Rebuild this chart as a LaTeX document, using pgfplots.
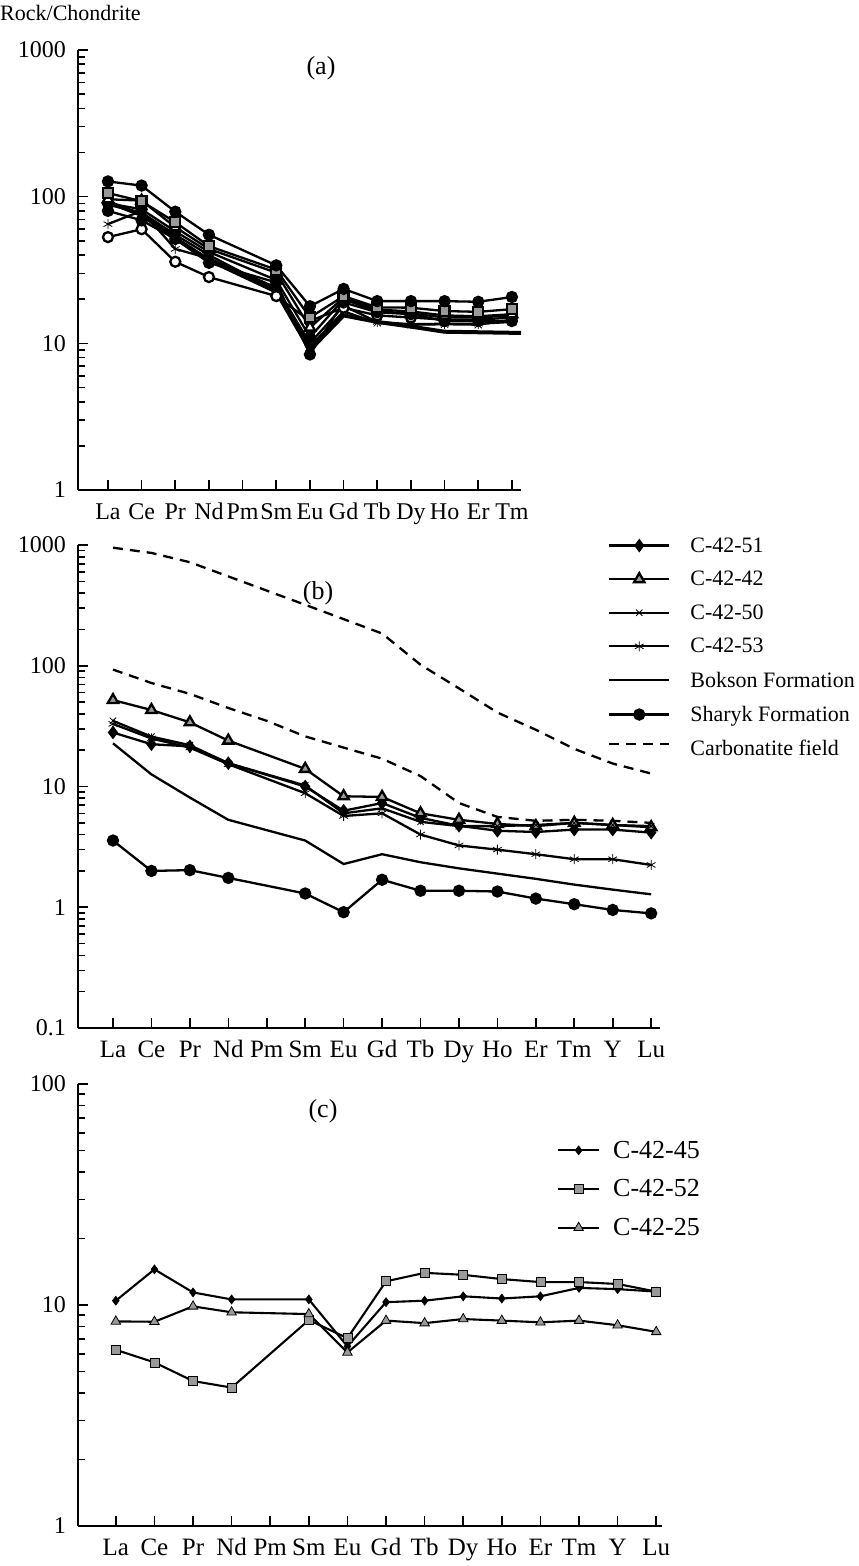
\documentclass[border=0pt]{standalone}
\usepackage{fontspec}
\setmainfont{Liberation Serif}
\usepackage{pgfplots}
\pgfplotsset{compat=1.18}
\tikzset{tk/.style={black, line width=1.6pt}}
\pgfplotsset{
  reeaxis/.style={
    scale only axis,
    axis lines*=left,
    axis line style={line width=1.4pt},
    every tick/.style={draw=black, line width=1.6pt},
    major tick length=10pt, minor tick length=6.5pt,
    xtick align=inside, ytick align=inside,
    /pgf/number format/1000 sep={},
    /pgf/number format/assume math mode=true,
    yticklabel style={font=\fontsize{24}{24}\selectfont, inner sep=0pt, anchor=east, xshift=-12pt},
    xticklabel style={font=\fontsize{25}{25}\selectfont, inner sep=0pt, anchor=north, text height=17pt, text depth=5pt, yshift=-12pt},
  },
  pl/.style={black, line width=2.3pt, mark size=5pt, mark options={solid, line width=0.8pt}},
}
\begin{document}
\begin{tikzpicture}
\path[use as bounding box] (0pt,0pt) rectangle (859pt,-1566pt);
% ---------------- (a)
\begin{axis}[ymode=log, reeaxis, at={(78pt,-490pt)}, anchor=south west,
  width=443pt, height=440pt,
  xmin=-0.89, xmax=12.27, ymin=1, ymax=1000,
  ytick={1,10,100,1000}, yticklabels={1,10,100,1000},
  minor ytick={2,3,4,5,6,7,8,9,20,30,40,50,60,70,80,90,200,300,400,500,600,700,800,900},
  xticklabel style={font=\fontsize{24}{24}\selectfont},
  xtick={0,...,12}, xticklabels={La,Ce,Pr,Nd,Pm,Sm,Eu,Gd,Tb,Dy,Ho,Er,Tm}]
\pgfplotsinvokeforeach{0,1,2,3,4,5,6,7,8,9,10,11,12}{\draw[tk] (axis cs:#1,1) -- ++(0pt,10pt);}
\pgfplotsinvokeforeach{10,100,1000}{\draw[tk] (axis cs:-0.89,#1) -- ++(10pt,0pt);}
\pgfplotsinvokeforeach{2,3,4,5,6,7,8,9,20,30,40,50,60,70,80,90,200,300,400,500,600,700,800,900}{\draw[tk] (axis cs:-0.89,#1) -- ++(6.5pt,0pt);}
\addplot[black, line width=4pt] coordinates {(0,92)(1,75)(2,52)(3,37)(5,22.5)(6,9)(7,15.5)(8,14)(9,13)(10,12)(11,11.9)(12,11.8)(13,11.7)};
\addplot[pl, mark=x] coordinates {(0,88)(1,78)(2,55)(3,40)(5,23)(6,9.5)(7,16.5)(8,13.8)(9,13.4)(10,13.5)(11,13.4)(12,14.5)};
\addplot[pl, mark=*, mark options={fill=black}] coordinates {(0,90)(1,82)(2,58)(3,42)(5,27)(6,11)(7,20)(8,16.5)(9,16)(10,15)(11,15)(12,15.5)};
\addplot[pl, mark=asterisk] coordinates {(0,65)(1,80)(2,44)(3,38)(5,24)(6,10)(7,18)(8,14)(9,13.5)(10,13.6)(11,13.6)(12,14)};
\addplot[pl, mark=*, mark options={fill=white}] coordinates {(0,53)(1,60)(2,36)(3,28.3)(5,21)(6,14.2)(7,17.5)(8,15.5)(9,15)(10,14.5)(11,14.5)(12,15)};
\addplot[pl, mark=*, mark options={fill=black}] coordinates {(0,80)(1,69)(2,51.5)(3,35.4)(5,26)(6,8.4)(7,19)(8,16.3)(9,15.8)(10,14.2)(11,14.2)(12,14.2)};
\addplot[pl, mark=triangle*, mark size=6pt, mark options={fill=white}] coordinates {(0,96)(1,94)(2,62)(3,44)(5,30.3)(6,12.8)(7,20.5)(8,17)(9,16.5)(10,15.5)(11,15.3)(12,15.8)};
\addplot[pl, mark=square*, mark options={fill=black!40}] coordinates {(0,106)(1,93)(2,67)(3,46)(5,31.8)(6,15)(7,21)(8,17.6)(9,17.5)(10,16.6)(11,16.4)(12,17.1)};
\addplot[pl, mark=*, mark options={fill=black}] coordinates {(0,127)(1,119)(2,79)(3,55)(5,34)(6,17.9)(7,23.5)(8,19.4)(9,19.4)(10,19.4)(11,19.2)(12,20.7)};
\end{axis}
% ---------------- (b)
\begin{axis}[ymode=log, reeaxis, at={(78pt,-1028pt)}, anchor=south west,
  width=582pt, height=483pt,
  xmin=-0.91, xmax=14.23, ymin=0.1, ymax=1000,
  ytick={0.1,1,10,100,1000}, yticklabels={0.1,1,10,100,1000},
  minor ytick={0.2,0.3,0.4,0.5,0.6,0.7,0.8,0.9,2,3,4,5,6,7,8,9,20,30,40,50,60,70,80,90,200,300,400,500,600,700,800,900},
  xtick={0,...,14}, xticklabels={La,Ce,Pr,Nd,Pm,Sm,Eu,Gd,Tb,Dy,Ho,Er,Tm,Y,Lu},
  legend style={at={(axis description cs:0.9105,1.02)}, anchor=north west, draw=none, fill=none,
    font=\fontsize{22}{22}\selectfont, row sep=13.5pt, column sep=18pt, inner sep=0pt},
  legend cell align=left,
  legend image code/.code={\draw[mark repeat=2,mark phase=2,#1] plot coordinates {(0pt,0pt)(30pt,0pt)(60pt,0pt)};}]
\pgfplotsinvokeforeach{0,1,2,3,4,5,6,7,8,9,10,11,12,13,14}{\draw[tk] (axis cs:#1,0.1) -- ++(0pt,10pt);}
\pgfplotsinvokeforeach{1,10,100,1000}{\draw[tk] (axis cs:-0.91,#1) -- ++(10pt,0pt);}
\pgfplotsinvokeforeach{0.2,0.3,0.4,0.5,0.6,0.7,0.8,0.9,2,3,4,5,6,7,8,9,20,30,40,50,60,70,80,90,200,300,400,500,600,700,800,900}{\draw[tk] (axis cs:-0.91,#1) -- ++(6.5pt,0pt);}
\addplot[pl, mark=diamond*, mark options={fill=black}] coordinates {(0,28)(1,22.4)(2,21.5)(3,15.6)(5,10)(6,6.3)(7,7.3)(8,5.5)(9,4.73)(10,4.3)(11,4.2)(12,4.4)(13,4.4)(14,4.15)};
\addlegendentry{C-42-51}
\addplot[pl, mark=triangle*, mark size=6pt, mark options={fill=black!40}] coordinates {(0,52)(1,43)(2,34)(3,24)(5,14)(6,8.3)(7,8.2)(8,6.0)(9,5.3)(10,4.9)(11,4.7)(12,5.0)(13,4.8)(14,4.6)};
\addlegendentry{C-42-42}
\addplot[pl, mark=x, mark size=4.5pt] coordinates {(0,35)(1,25.9)(2,22)(3,15.6)(5,10.2)(6,6.0)(7,6.6)(8,5.1)(9,4.7)(10,4.7)(11,4.8)(12,5.0)(13,4.8)(14,4.7)};
\addlegendentry{C-42-50}
\addplot[pl, mark=asterisk, mark size=5pt] coordinates {(0,33)(1,25)(2,21)(3,15.3)(5,8.8)(6,5.7)(7,6.0)(8,4.0)(9,3.25)(10,3.0)(11,2.75)(12,2.5)(13,2.5)(14,2.24)};
\addlegendentry{C-42-53}
\addplot[black, line width=2.3pt] coordinates {(0,22.8)(1,12.6)(2,8.1)(3,5.3)(5,3.57)(6,2.28)(7,2.75)(8,2.36)(9,2.1)(10,1.9)(11,1.72)(12,1.54)(13,1.4)(14,1.28)};
\addlegendentry{Bokson Formation}
\addplot[pl, mark=*, mark options={fill=black}] coordinates {(0,3.57)(1,2.0)(2,2.03)(3,1.75)(5,1.3)(6,0.91)(7,1.69)(8,1.37)(9,1.37)(10,1.35)(11,1.18)(12,1.06)(13,0.95)(14,0.89)};
\addlegendentry{Sharyk Formation}
\addplot[black, line width=2.3pt, dash pattern=on 10pt off 7pt] coordinates {(0,950)(1,860)(2,720)(5,320)(7,185)(8,102)(9,65)(10,41)(11,29.5)(12,20.5)(13,15.5)(14,12.8)};
\addlegendentry{\raisebox{-10pt}{Carbonatite field}}
\addplot[black, line width=2.3pt, dash pattern=on 10pt off 7pt, forget plot] coordinates {(0,93)(1,72)(2,58.5)(3,44.7)(4,35)(5,26)(6,21)(7,17)(8,12.2)(9,7.3)(10,5.6)(11,5.2)(12,5.3)(13,5.2)(14,5.0)};
\end{axis}
% ---------------- (c)
\begin{axis}[ymode=log, reeaxis, at={(78pt,-1526pt)}, anchor=south west,
  width=584pt, height=442pt,
  xmin=-0.98, xmax=14.15, ymin=1, ymax=100,
  ytick={1,10,100}, yticklabels={1,10,100},
  minor ytick={2,3,4,5,6,7,8,9,20,30,40,50,60,70,80,90},
  xtick={0,...,14}, xticklabels={La,Ce,Pr,Nd,Pm,Sm,Eu,Gd,Tb,Dy,Ho,Er,Tm,Y,Lu},
  legend style={at={(axis description cs:0.82,0.876)}, anchor=north west, draw=none, fill=none,
    font=\fontsize{26}{26}\selectfont, row sep=16pt, column sep=11pt, inner sep=0pt},
  legend cell align=left,
  legend image code/.code={\draw[mark repeat=2,mark phase=2,#1] plot coordinates {(0pt,0pt)(20.5pt,0pt)(41pt,0pt)};}]
\pgfplotsinvokeforeach{0,1,2,3,4,5,6,7,8,9,10,11,12,13,14}{\draw[tk] (axis cs:#1,1) -- ++(0pt,10pt);}
\pgfplotsinvokeforeach{10,100}{\draw[tk] (axis cs:-0.98,#1) -- ++(10pt,0pt);}
\pgfplotsinvokeforeach{2,3,4,5,6,7,8,9,20,30,40,50,60,70,80,90}{\draw[tk] (axis cs:-0.98,#1) -- ++(6.5pt,0pt);}
\addplot[black, line width=2.1pt, mark=diamond*, mark size=4.5pt, mark options={solid, fill=black, line width=0.6pt}] coordinates {(0,10.46)(1,14.5)(2,11.4)(3,10.6)(5,10.6)(6,6.5)(7,10.3)(8,10.46)(9,10.95)(10,10.7)(11,10.95)(12,11.95)(13,11.8)(14,11.5)};
\addlegendentry{C-42-45}
\addplot[black, line width=2.1pt, mark=square*, mark size=4.5pt, mark options={solid, fill=black!40, line width=0.8pt}] coordinates {(0,6.27)(1,5.5)(2,4.53)(3,4.23)(5,8.55)(6,7.08)(7,12.8)(8,13.98)(9,13.7)(10,13.1)(11,12.7)(12,12.7)(13,12.45)(14,11.5)};
\addlegendentry{C-42-52}
\addplot[black, line width=2.1pt, mark=triangle*, mark size=5.5pt, mark options={solid, fill=black!40, line width=0.8pt}] coordinates {(0,8.43)(1,8.4)(2,9.86)(3,9.27)(5,9.1)(6,6.1)(7,8.5)(8,8.28)(9,8.64)(10,8.5)(11,8.35)(12,8.5)(13,8.1)(14,7.56)};
\addlegendentry{C-42-25}
\end{axis}
% ---------------- labels
\node[anchor=west, inner sep=0pt, font=\fontsize{22}{22}\selectfont] at (0pt,-13pt) {Rock/Chondrite};
\node[font=\fontsize{26}{26}\selectfont] at (321pt,-68pt) {(a)};
\node[font=\fontsize{26}{26}\selectfont] at (318pt,-593pt) {(b)};
\node[font=\fontsize{26}{26}\selectfont] at (323pt,-1111pt) {(c)};
\end{tikzpicture}
\end{document}
